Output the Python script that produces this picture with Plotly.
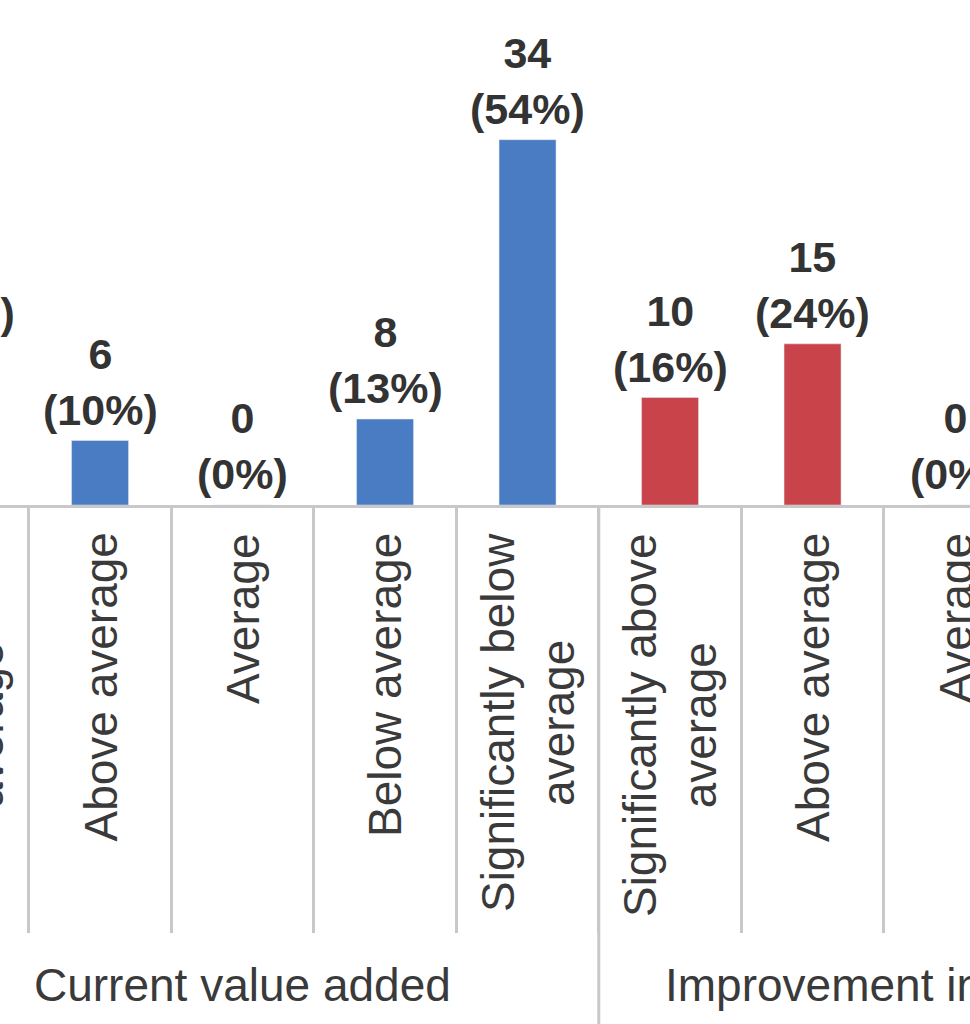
import plotly.graph_objects as go

# categories shown under each group
categories = ["Significantly above<br>average", "Above average", "Average",
              "Below average", "Significantly below<br>average"]
groups = ["Current value added", "Improvement in value added"]

# counts and shares (only the visible part of group 2)
current_counts = [15, 6, 0, 8, 34]
current_pct = [24, 10, 0, 13, 54]
improvement_counts = [10, 15, 0]
improvement_pct = [16, 24, 0]

BLUE = "#4a7cc4"
RED = "#c9434a"
GRID = "#c8c8c8"
TEXT = "#333333"
LABEL = "#3a3a3a"
FONT = "Liberation Sans, Arial, sans-serif"

n = len(categories)
x_cur = list(range(n))
x_imp = [n + i for i in range(len(improvement_counts))]
x_range = [0.298, 7.105]


def to_paper(x):
    # paper-referenced so labels of the clipped left category still show
    return (x - x_range[0]) / (x_range[1] - x_range[0])


fig = go.Figure()
fig.add_trace(go.Bar(x=x_cur, y=current_counts, marker_color=BLUE, width=0.4))
fig.add_trace(go.Bar(x=x_imp, y=improvement_counts, marker_color=RED, width=0.4))

annotations = []
for xs, counts, pcts in [(x_cur, current_counts, current_pct),
                         (x_imp, improvement_counts, improvement_pct)]:
    for x, c, p, cat in zip(xs, counts, pcts, categories):
        annotations.append(dict(
            x=to_paper(x), xref="paper", xanchor="center",
            y=c, yref="y", yanchor="bottom", yshift=5, showarrow=False,
            text=f"<b>{c}</b><br><b>({p}%)</b>",
            font=dict(family=FONT, size=43, color=TEXT)))
        annotations.append(dict(
            x=to_paper(x), xref="paper", xanchor="center",
            y=0, yref="paper", yanchor="top", yshift=-26, showarrow=False,
            textangle=-90, align="center",
            text=cat, font=dict(family=FONT, size=46, color=LABEL)))

for g, xs in zip(groups, [x_cur, list(range(n, 2 * n))]):
    annotations.append(dict(
        x=to_paper((xs[0] + xs[-1]) / 2), xref="paper", xanchor="center",
        y=0, yref="paper", yanchor="middle", yshift=-480, showarrow=False,
        text=g, font=dict(family=FONT, size=46, color=LABEL)))

fig.update_layout(
    width=970, height=1024,
    margin=dict(l=0, r=0, t=0, b=519),
    plot_bgcolor="white", paper_bgcolor="white",
    showlegend=False,
    annotations=annotations,
    shapes=[dict(type="line", xref="x", yref="paper", x0=n - 0.5, x1=n - 0.5,
                 y0=0, y1=-1.05, line=dict(color=GRID, width=3))],
)
fig.update_xaxes(range=x_range, showgrid=False, zeroline=False,
                 showline=True, linecolor=GRID, linewidth=3,
                 tickvals=[i + 0.5 for i in range(2 * n)], ticks="outside",
                 ticklen=425, tickwidth=3, tickcolor=GRID, showticklabels=False)
fig.update_yaxes(range=[0, 47], visible=False)

fig.write_html("out.html", config={"displayModeBar": False},
               post_script="document.body.style.margin='0';"
                           "document.body.style.overflow='hidden';")
